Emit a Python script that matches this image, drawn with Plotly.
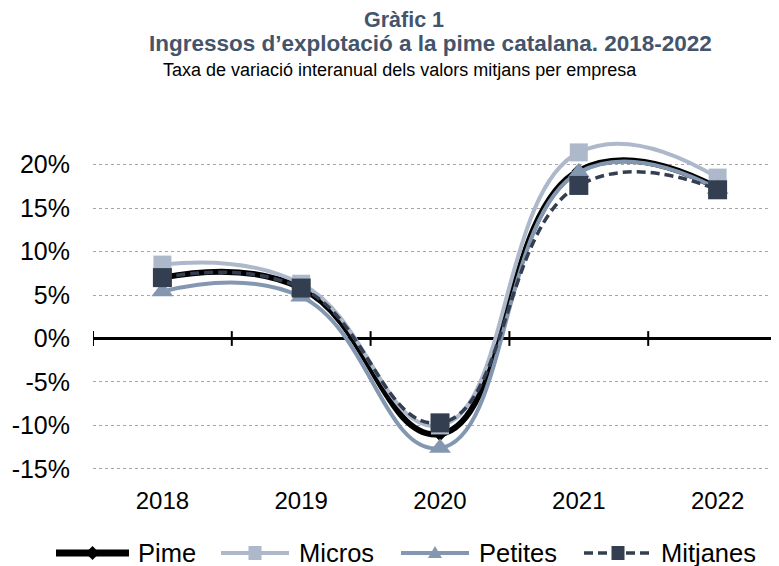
import plotly.graph_objects as go

years = ["2018", "2019", "2020", "2021", "2022"]
pime = [7.0, 5.8, -11.0, 19.3, 17.3]
micros = [8.5, 6.3, -10.0, 21.4, 18.5]
petites = [5.4, 4.8, -12.6, 19.1, 17.2]
mitjanes = [7.0, 5.8, -9.7, 17.6, 17.1]
ytick_vals = [-15, -10, -5, 0, 5, 10, 15, 20]
ytick_text = ["-15%", "-10%", "-5%", "0%", "5%", "10%", "15%", "20%"]

FONT = "Liberation Sans, Arial, sans-serif"
OFF = 8  # page body margin offset of the figure on screen
W, H = 779, 566
L, R, T, B = 93 - OFF, 0, 125 - OFF, 566 - (472 - OFF)
PW, PH = W - L - R, H - T - B
SMOOTH = 1.3


def px(x):
    # screen pixel -> paper fraction
    return (x - OFF - L) / PW


def py(y):
    return (H - B - (y - OFF)) / PH


xi = list(range(len(years)))

series = [
    dict(name="Pime", y=pime, color="#000000", width=6, dash="solid", symbol="diamond", size=11),
    dict(name="Micros", y=micros, color="#ADB9CA", width=4, dash="solid", symbol="square", size=18),
    dict(name="Petites", y=petites, color="#8497B0", width=4, dash="solid", symbol="triangle-up", size=19),
    dict(name="Mitjanes", y=mitjanes, color="#333F50", width=3.5, dash="9px,5px", symbol="square", size=19),
]

fig = go.Figure()
for s in series:
    fig.add_trace(go.Scatter(
        x=xi, y=s["y"], name=s["name"], mode="lines+markers", showlegend=False,
        line=dict(color=s["color"], width=s["width"], dash=s["dash"], shape="spline", smoothing=SMOOTH),
        marker=dict(symbol=s["symbol"], size=s["size"], color=s["color"]),
    ))

# category-boundary tick marks on the zero line
shapes = []
for i in range(len(years) + 1):
    shapes.append(dict(type="line", xref="x", yref="y", x0=i - 0.5, x1=i - 0.5, y0=-0.85, y1=0.85,
                       line=dict(color="#000000", width=2), layer="between"))

# manual legend (line keys of Excel length)
leg_y = 553
leg_items = [
    (series[0], 56, 129, 136),
    (series[1], 221, 289, 297),
    (series[2], 401, 469, 477),
    (series[3], 584, 652, 659),
]


def ppath(points):
    return "M " + " L ".join(f"{px(a):.5f},{py(b):.5f}" for a, b in points) + " Z"


annotations = []
for s, x0, x1, tx in leg_items:
    shapes.append(dict(type="line", xref="paper", yref="paper", x0=px(x0), x1=px(x1),
                       y0=py(leg_y), y1=py(leg_y),
                       line=dict(color=s["color"], width=s["width"] + (1 if s["name"] == "Pime" else 0),
                                 dash=s["dash"])))
    cx = (x0 + x1) / 2
    if s["symbol"] == "diamond":
        pts = [(cx - 7, leg_y), (cx, leg_y - 7), (cx + 7, leg_y), (cx, leg_y + 7)]
    elif s["symbol"] == "triangle-up":
        pts = [(cx - 7, leg_y + 5), (cx, leg_y - 7), (cx + 7, leg_y + 5)]
    else:
        pts = [(cx - 6.5, leg_y - 7), (cx + 6.5, leg_y - 7), (cx + 6.5, leg_y + 7), (cx - 6.5, leg_y + 7)]
    shapes.append(dict(type="path", xref="paper", yref="paper", path=ppath(pts),
                       fillcolor=s["color"], line=dict(width=0)))
    annotations.append(dict(text=s["name"], x=px(tx), y=py(leg_y), xref="paper", yref="paper",
                            showarrow=False, xanchor="left", yanchor="middle",
                            font=dict(family=FONT, size=25.5, color="#000000")))

annotations += [
    dict(text="<b>Gràfic 1</b>", x=px(404), y=py(20), xref="paper", yref="paper", borderpad=0,
         showarrow=False, font=dict(family=FONT, size=21.5, color="#44546A"), xanchor="center", yanchor="middle"),
    dict(text="<b>Ingressos d’explotació a la pime catalana. 2018-2022</b>", x=px(430), y=py(44),
         xref="paper", yref="paper", showarrow=False,
         font=dict(family=FONT, size=22.5, color="#44546A"), xanchor="center", yanchor="middle"),
    dict(text="Taxa de variació interanual dels valors mitjans per empresa", x=px(400), y=py(70),
         xref="paper", yref="paper", showarrow=False,
         font=dict(family=FONT, size=18, color="#000000"), xanchor="center", yanchor="middle"),
]

fig.update_layout(
    width=W, height=H,
    margin=dict(l=L, r=R, t=T, b=B, pad=0, autoexpand=False),
    paper_bgcolor="white", plot_bgcolor="white",
    font=dict(family=FONT, color="#000000"),
    showlegend=False,
    shapes=shapes,
    annotations=annotations,
    xaxis=dict(range=[-0.5, 4.5], tickmode="array", tickvals=xi, ticktext=years,
               showgrid=False, zeroline=False, showline=False, ticks="",
               tickfont=dict(family=FONT, size=24, color="#000000"), ticklabelstandoff=12,
               fixedrange=True, automargin=False),
    yaxis=dict(range=[-15.35, 24.55], tickmode="array", tickvals=ytick_vals, ticktext=ytick_text,
               showgrid=True, gridcolor="#A6A6A6", griddash="dot", gridwidth=1,
               zeroline=True, zerolinecolor="#000000", zerolinewidth=2.5, showline=False, ticks="",
               tickfont=dict(family=FONT, size=25, color="#000000"), ticklabelstandoff=22,
               fixedrange=True, automargin=False),
)

fig.write_html("out.html")
